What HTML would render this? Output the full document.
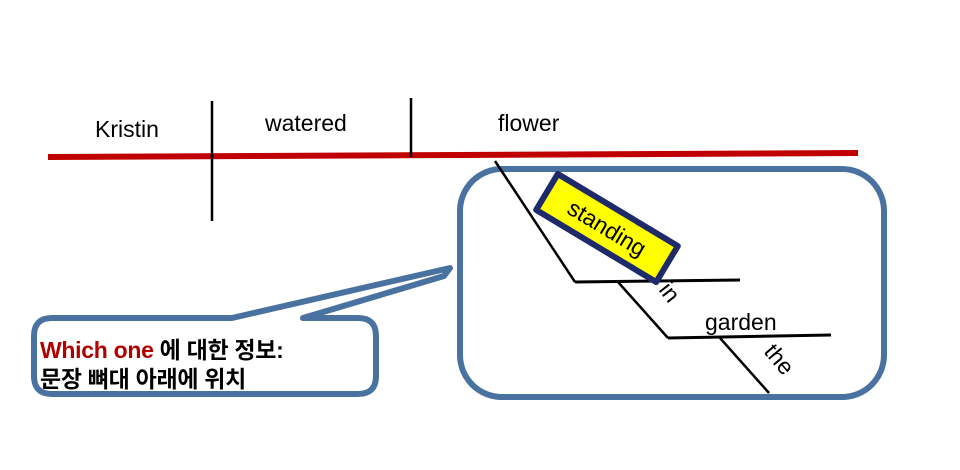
<!DOCTYPE html>
<html><head><meta charset="utf-8"><style>
html,body{margin:0;padding:0;background:#fff;width:960px;height:470px;overflow:hidden}
svg{display:block}
text{font-family:"Liberation Sans","Noto Sans CJK KR",sans-serif}
</style></head><body>
<svg width="960" height="470" viewBox="0 0 960 470" xmlns="http://www.w3.org/2000/svg">
<rect width="960" height="470" fill="#fff"/>
<line x1="48" y1="157" x2="858" y2="153" stroke="#c00000" stroke-width="6"/>
<line x1="212" y1="101" x2="212" y2="221" stroke="#000" stroke-width="2.5"/>
<line x1="411" y1="98" x2="411" y2="157" stroke="#000" stroke-width="2.5"/>
<text x="95" y="137" font-size="23" fill="#000">Kristin</text>
<text x="265" y="131" font-size="23" fill="#000">watered</text>
<text x="498" y="131" font-size="23" fill="#000">flower</text>
<rect x="460" y="169" width="424" height="228" rx="42" fill="none" stroke="#4a72a0" stroke-width="6"/>
<path d="M52,318 L232,318 L450,268 L444,276 L303,318 L358,318 Q376,318 376,336 L376,376 Q376,394 358,394 L52,394 Q34,394 34,376 L34,336 Q34,318 52,318 Z" fill="#fff" stroke="#4a72a0" stroke-width="6" stroke-linejoin="round"/>
<text x="40" y="358" font-size="23" font-weight="bold" letter-spacing="-0.3"><tspan fill="#b00000">Which one</tspan><tspan fill="#000"> 에 대한 정보:</tspan></text>
<text x="40" y="387" font-size="23" font-weight="bold" fill="#000" letter-spacing="-0.3">문장 뼈대 아래에 위치</text>
<line x1="495" y1="161" x2="575" y2="282" stroke="#000" stroke-width="2.5"/>
<line x1="575" y1="282" x2="740" y2="280" stroke="#000" stroke-width="3"/>
<line x1="618" y1="282" x2="668" y2="338" stroke="#000" stroke-width="2.5"/>
<line x1="668" y1="338" x2="831" y2="335" stroke="#000" stroke-width="3"/>
<line x1="720" y1="338" x2="769" y2="393" stroke="#000" stroke-width="2.5"/>
<text x="705" y="330" font-size="23" fill="#000">garden</text>
<text x="0" y="0" font-size="23" fill="#000" transform="translate(658,290) rotate(52)">in</text>
<text x="0" y="0" font-size="23" fill="#000" transform="translate(763,352) rotate(50)">the</text>
<g transform="translate(607,228) rotate(31)">
<rect x="-70" y="-21" width="140" height="42" fill="#ffff00" stroke="#1f2a6b" stroke-width="6" stroke-linejoin="round"/>
<text x="0" y="8" font-size="23" text-anchor="middle" fill="#000">standing</text>
</g>
</svg>
</body></html>
